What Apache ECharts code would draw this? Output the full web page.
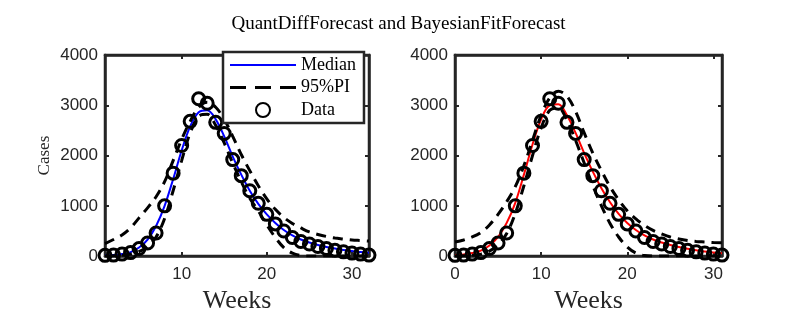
<!DOCTYPE html>
<html>
<head>
<meta charset="utf-8">
<script src="https://cdn.jsdelivr.net/npm/echarts@6/dist/echarts.min.js"></script>
<style>
html,body{margin:0;padding:0;background:#fff;}
#chart{width:797px;height:319px;}
</style>
</head>
<body>
<div id="chart"></div>
<script>
// ---- data ----
const titleText = 'QuantDiffForecast and BayesianFitForecast';
const weeksLeft  = [1,2,3,4,5,6,7,8,9,10,11,12,13,14,15,16,17,18,19,20,21,22,23,24,25,26,27,28,29,30,31,32];
const weeksRight = [0,1,2,3,4,5,6,7,8,9,10,11,12,13,14,15,16,17,18,19,20,21,22,23,24,25,26,27,28,29,30,31];
const cases = [15,20,40,70,150,260,460,1000,1650,2200,2680,3130,3040,2660,2440,1920,1600,1300,1050,830,640,500,370,290,240,190,150,115,85,60,40,20];

const medianLeft = [10,20,40,80,170,330,600,1000,1530,2100,2580,2860,2900,2720,2380,1980,1620,1300,1040,830,660,520,410,330,270,220,180,150,120,100,80,65];
const upperLeft  = [250,330,420,560,760,960,1180,1480,1900,2320,2680,2960,3060,2960,2720,2380,2020,1700,1400,1140,930,770,650,560,480,430,390,360,340,320,310,300];
const lowerLeft  = [0,5,15,40,90,190,380,750,1300,1900,2450,2780,2820,2600,2250,1850,1480,1150,900,620,370,170,60,10,0,0,0,0,0,0,0,0];

const medianRight = [15,30,60,110,210,380,660,1060,1620,2220,2720,3000,3020,2800,2450,2050,1680,1350,1070,840,660,520,410,330,270,220,180,145,115,90,70,55];
const upperRight  = [280,320,380,470,620,830,1080,1380,1800,2300,2800,3150,3280,3180,2880,2450,2050,1700,1380,1120,900,740,610,510,440,380,340,310,290,280,270,265];
const lowerRight  = [0,5,15,40,100,220,450,850,1400,2000,2550,2900,2950,2700,2300,1850,1400,1000,650,380,180,60,10,0,0,0,0,0,0,0,0,0];

const xTicksLeft = [10,20,30];
const xTicksRight = [0,10,20,30];
const yMin = 0, yMax = 4000, yStep = 1000;
const xLabel = 'Weeks';
const yLabel = 'Cases';
const legendNames = ['Median','95%PI','Data'];

// ---- chart ----
const pairs = (xs, ys) => xs.map((x, i) => [x, ys[i]]);
const AX = '#262626';
const SANS = 'Liberation Sans';
const SERIF = 'Liberation Serif';

function xAx(grid, min, max, ticks, pos, showLabel) {
  return {
    type: 'value', gridIndex: grid, position: pos, min: min, max: max,
    axisLine: {show: true, onZero: false, lineStyle: {color: AX, width: 2.5}},
    axisTick: {show: true, inside: true, length: 4, customValues: ticks, lineStyle: {color: AX, width: 2}},
    axisLabel: {show: showLabel, customValues: ticks, margin: 10, color: AX, fontFamily: SANS, fontSize: 17,
                formatter: v => String(v)},
    splitLine: {show: false},
    name: showLabel ? xLabel : '', nameLocation: 'middle', nameGap: 28,
    nameTextStyle: {fontFamily: SERIF, fontSize: 26, color: AX}
  };
}
function yAx(grid, pos, showLabel, name) {
  return {
    type: 'value', gridIndex: grid, position: pos, min: yMin, max: yMax, interval: yStep,
    axisLine: {show: true, onZero: false, lineStyle: {color: AX, width: 2.5}},
    axisTick: {show: true, inside: true, length: 4, lineStyle: {color: AX, width: 2}},
    axisLabel: {show: showLabel, margin: 7, color: AX, fontFamily: SANS, fontSize: 17,
                formatter: v => String(v)},
    splitLine: {show: false},
    name: name || '', nameLocation: 'middle', nameGap: 52, nameRotate: 90,
    nameTextStyle: {fontFamily: SERIF, fontSize: 17, color: AX}
  };
}

function lineSeries(name, xi, data, color, dashed, width) {
  return {
    name: name, type: 'line', xAxisIndex: xi, yAxisIndex: xi, data: data,
    smooth: 0.35, symbol: 'none', silent: true,
    lineStyle: {color: color, width: width, type: dashed ? [10, 7] : 'solid'},
    itemStyle: {color: color}, z: 2
  };
}
function dataSeries(name, xi, data) {
  return {
    name: name, type: 'scatter', xAxisIndex: xi, yAxisIndex: xi, data: data,
    symbol: 'circle', symbolSize: 12,
    itemStyle: {color: 'rgba(0,0,0,0)', borderColor: '#000', borderWidth: 3, opacity: 1},
    z: 5
  };
}

const option = {
  animation: false,
  backgroundColor: '#fff',
  title: {
    text: titleText, left: 'center', top: 10,
    textStyle: {fontFamily: SERIF, fontSize: 19, fontWeight: 'normal', color: '#000'}
  },
  grid: [
    {left: 105, right: 428, top: 55, bottom: 62, show: true, borderColor: AX, borderWidth: 2.5, backgroundColor: '#fff'},
    {left: 455, right: 75, top: 55, bottom: 62, show: true, borderColor: AX, borderWidth: 2.5, backgroundColor: '#fff'}
  ],
  xAxis: [
    xAx(0, 1, 32, xTicksLeft, 'bottom', true),
    xAx(1, 0, 31, xTicksRight, 'bottom', true),
    xAx(0, 1, 32, xTicksLeft, 'top', false),
    xAx(1, 0, 31, xTicksRight, 'top', false)
  ],
  yAxis: [
    yAx(0, 'left', true, yLabel),
    yAx(1, 'left', true, ''),
    yAx(0, 'right', false, ''),
    yAx(1, 'right', false, '')
  ],
  legend: {
    data: [
      {name: legendNames[0], icon: 'path://M0,0H66V2H0Z', itemStyle: {color: '#0000ff'}},
      {name: legendNames[1], icon: 'path://M0,0H16V3H0Z M25,0H41V3H25Z M50,0H66V3H50Z', itemStyle: {color: '#000'}},
      {name: legendNames[2], icon: 'circle'}
    ],
    orient: 'vertical', left: 223, top: 52,
    padding: [4, 8, 4, 7], itemGap: 4.5, itemWidth: 66, itemHeight: 14,
    backgroundColor: '#fff', borderColor: AX, borderWidth: 2.5,
    textStyle: {fontFamily: SERIF, fontSize: 18, color: '#000'},
    selectedMode: false, z: 20
  },
  series: [
    lineSeries(legendNames[0], 0, pairs(weeksLeft, medianLeft), '#0000ff', false, 2),
    lineSeries(legendNames[1], 0, pairs(weeksLeft, upperLeft), '#000', true, 3),
    lineSeries(legendNames[1], 0, pairs(weeksLeft, lowerLeft), '#000', true, 3),
    dataSeries(legendNames[2], 0, pairs(weeksLeft, cases)),
    lineSeries('Median (right)', 1, pairs(weeksRight, medianRight), '#ff0000', false, 2),
    lineSeries('95%PI (right)', 1, pairs(weeksRight, upperRight), '#000', true, 3),
    lineSeries('95%PI (right) ', 1, pairs(weeksRight, lowerRight), '#000', true, 3),
    dataSeries('Data (right)', 1, pairs(weeksRight, cases))
  ]
};

const chart = echarts.init(document.getElementById('chart'), null, {renderer: 'canvas'});
chart.setOption(option);
</script>
</body>
</html>
